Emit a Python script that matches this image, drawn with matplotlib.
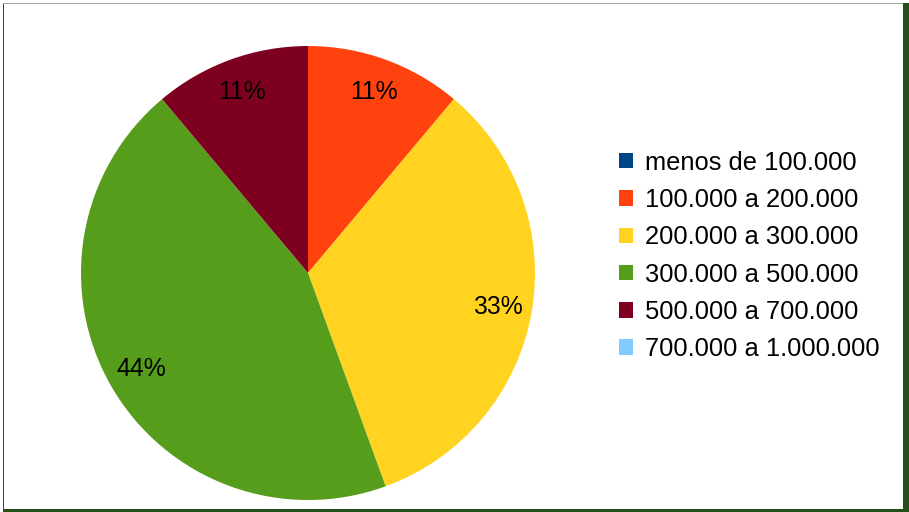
import matplotlib.pyplot as plt
from matplotlib.patches import Patch, Rectangle

plt.rcParams['font.family'] = ['Liberation Sans', 'DejaVu Sans']

# data
categories = ['menos de 100.000', '100.000 a 200.000', '200.000 a 300.000',
              '300.000 a 500.000', '500.000 a 700.000', '700.000 a 1.000.000']
counts = [0, 1, 3, 4, 1, 0]
colors = ['#004586', '#ff420e', '#ffd320', '#579d1c', '#7e0021', '#83caff']

W, H = 909, 512
fig = plt.figure(figsize=(W / 100, H / 100), dpi=100)

# pie centred at (308, 273) px, radius ~227 px
cx, cy, r = 308, 273, 227
ax = fig.add_axes([(cx - r) / W, (H - cy - r) / H, 2 * r / W, 2 * r / H])

def pct(p):
    return '' if p < 0.5 else '%.0f%%' % p

ax.pie(counts, colors=colors, startangle=90, counterclock=False,
       autopct=pct, pctdistance=0.85,
       wedgeprops={'linewidth': 0},
       textprops={'fontsize': 17.8, 'color': 'black'})
ax.set_aspect('equal')
ax.set_xlim(-1, 1)
ax.set_ylim(-1, 1)
ax.axis('off')

# legend
handles = [Patch(facecolor=c, edgecolor='none') for c in colors]
fig.legend(handles, categories, loc='center left',
           bbox_to_anchor=(619 / W, 1 - 256 / H), frameon=False,
           fontsize=18.4, handlelength=0.55, handleheight=0.55,
           handletextpad=0.45, labelspacing=0.52, borderpad=0, borderaxespad=0)

# frame around the chart
fig.patches.append(Rectangle((3 / W, 0), 1 / W, 1 - 3 / H, transform=fig.transFigure,
                             facecolor='#2b4f1f', edgecolor='none'))
fig.patches.append(Rectangle((3 / W, 1 - 4 / H), 1 - 6 / W, 1 / H, transform=fig.transFigure,
                             facecolor='#9fae98', edgecolor='none'))
fig.patches.append(Rectangle((903 / W, 0), 6 / W, 1 - 3 / H, transform=fig.transFigure,
                             facecolor='#234f18', edgecolor='none'))
fig.patches.append(Rectangle((3 / W, 0), 1, 3 / H, transform=fig.transFigure,
                             facecolor='#234f18', edgecolor='none'))

fig.savefig('out.png', dpi=100)
